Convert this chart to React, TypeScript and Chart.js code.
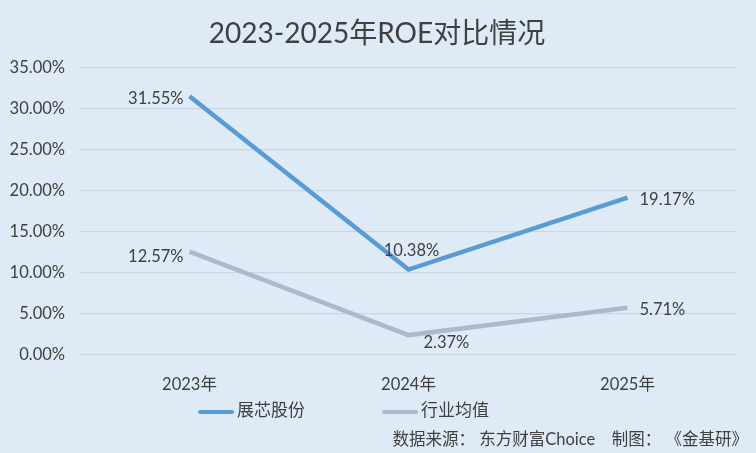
import { Chart, registerables } from "chart.js";
import { useEffect, useRef } from "react";

Chart.register(...registerables);

const years = ["2023年", "2024年", "2025年"];
const companyRoe = [31.55, 10.38, 19.17];
const industryRoe = [12.57, 2.37, 5.71];
const seriesNames = ["展芯股份", "行业均值"];
const yTicks = [0, 5, 10, 15, 20, 25, 30, 35];

const chartTitle = "2023-2025年ROE对比情况";
const sourceNote = "数据来源： 东方财富Choice　制图： 《金基研》";

const FONT = "Lato, 'Noto Sans CJK SC', sans-serif";
const TEXT = "#404040";
const BLUE = "#5B9BD5";
const GREY = "#ADB9CA";

// where each value label sits relative to its point
const labelSpots = [
  ["left", "top", "right"],
  ["left", "bottom", "right"],
];

const decorPlugin = {
  id: "decor",
  afterDatasetsDraw(chart: Chart) {
    const ctx = chart.ctx;
    ctx.save();
    ctx.fillStyle = TEXT;
    ctx.font = `16.5px ${FONT}`;
    chart.data.datasets.forEach((ds, di) => {
      const meta = chart.getDatasetMeta(di);
      meta.data.forEach((pt, i) => {
        const txt = (ds.data[i] as number).toFixed(2) + "%";
        const spot = labelSpots[di][i];
        let x = pt.x;
        let y = pt.y;
        ctx.textBaseline = "middle";
        if (spot === "left") {
          ctx.textAlign = "right";
          x -= 6;
          y += di === 1 ? 5 : 2;
        } else if (spot === "right") {
          ctx.textAlign = "left";
          x += 12;
          y += 2;
        } else if (spot === "top") {
          ctx.textAlign = "center";
          x += 3;
          y -= 19;
        } else {
          ctx.textAlign = "left";
          x += 15;
          y += 8;
        }
        ctx.fillText(txt, x, y);
      });
    });
    ctx.restore();
  },
  afterDraw(chart: Chart) {
    const ctx = chart.ctx;
    ctx.save();
    ctx.fillStyle = TEXT;
    ctx.textBaseline = "middle";
    ctx.textAlign = "center";
    ctx.font = `28px ${FONT}`;
    ctx.fillText(chartTitle, 377, 34);

    // legend
    const items = [
      { x: 198, color: BLUE, name: seriesNames[0] },
      { x: 382, color: GREY, name: seriesNames[1] },
    ];
    ctx.font = `17px ${FONT}`;
    ctx.textAlign = "left";
    items.forEach((it) => {
      ctx.strokeStyle = it.color;
      ctx.lineWidth = 4;
      ctx.lineCap = "round";
      ctx.beginPath();
      ctx.moveTo(it.x + 2, 412);
      ctx.lineTo(it.x + 34, 412);
      ctx.stroke();
      ctx.fillText(it.name, it.x + 39, 411);
    });

    ctx.font = `16.5px ${FONT}`;
    ctx.textAlign = "right";
    ctx.fillText(sourceNote, 748, 440);
    ctx.restore();
  },
};

export default function App() {
  const canvasRef = useRef<HTMLCanvasElement | null>(null);

  useEffect(() => {
    document.body.style.margin = "0";
    if (!canvasRef.current) return;
    const chart = new Chart(canvasRef.current, {
      type: "line",
      data: {
        labels: years,
        datasets: [
          {
            label: seriesNames[0],
            data: companyRoe,
            borderColor: BLUE,
            backgroundColor: BLUE,
            borderWidth: 4.5,
            pointRadius: 0,
            tension: 0,
          },
          {
            label: seriesNames[1],
            data: industryRoe,
            borderColor: GREY,
            backgroundColor: GREY,
            borderWidth: 4.5,
            pointRadius: 0,
            tension: 0,
          },
        ],
      },
      options: {
        animation: false,
        responsive: false,
        layout: { padding: { top: 68, right: 19, left: 0, bottom: 0 } },
        plugins: {
          legend: { display: false },
          title: { display: false },
          tooltip: { enabled: false },
        },
        scales: {
          x: {
            offset: true,
            grid: { display: false },
            border: { display: false },
            ticks: { color: TEXT, font: { family: FONT, size: 16.5 }, padding: 12 },
            afterFit(scale) {
              scale.height = 98.5;
            },
          },
          y: {
            min: 0,
            max: 35,
            afterBuildTicks(scale) {
              scale.ticks = yTicks.map((v) => ({ value: v }));
            },
            grid: { color: "#C9D6E4", lineWidth: 1.2, drawTicks: false },
            border: { display: false },
            ticks: {
              color: TEXT,
              font: { family: FONT, size: 16.5 },
              padding: 15,
              callback: (v) => Number(v).toFixed(2) + "%",
            },
            afterFit(scale) {
              scale.width = 80;
            },
          },
        },
      },
      plugins: [decorPlugin],
    });
    return () => chart.destroy();
  }, []);

  return (
    <div style={{ width: 756, height: 453, background: "#DEEAF6" }}>
      <canvas ref={canvasRef} width={756} height={453} />
    </div>
  );
}
